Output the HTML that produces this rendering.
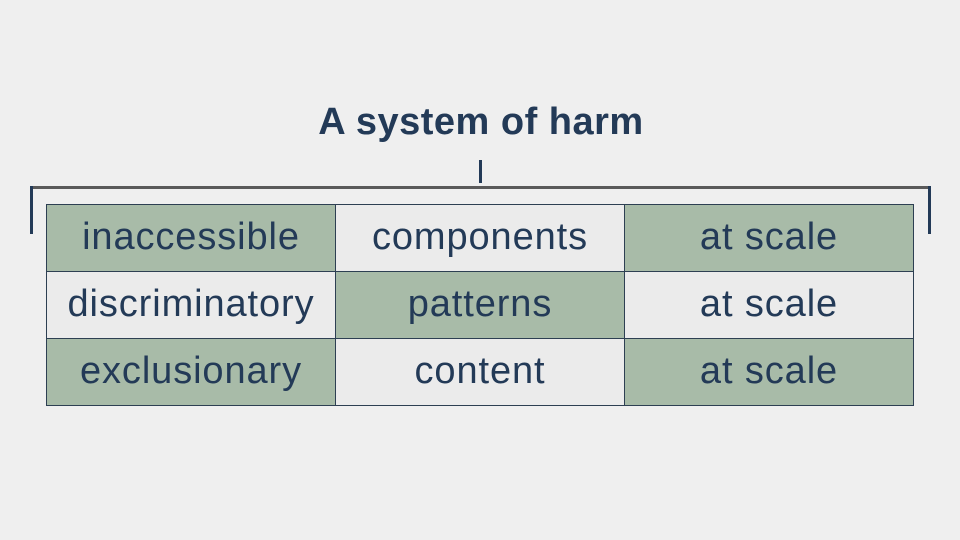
<!DOCTYPE html>
<html><head><meta charset="utf-8"><style>
body{margin:0;width:960px;height:540px;background:#efefef;position:relative;overflow:hidden;font-family:"Liberation Sans",sans-serif;color:#233a57}
.t{position:absolute;left:0;width:962px;top:101px;text-align:center;font-weight:bold;font-size:38px;letter-spacing:0.5px}
.l{position:absolute;background:#233a57}
.c{position:absolute;width:290px;height:68px;line-height:64px;border:1px solid #2d3f52;text-align:center;font-size:38px;letter-spacing:0.9px;background:#ebebeb;white-space:nowrap;box-sizing:border-box}
.g{background:#a8bba8}
</style></head><body>
<div class="t">A system of harm</div>
<div class="l" style="left:479px;top:160px;width:3px;height:23px"></div>
<div class="l" style="left:30px;top:186px;width:901px;height:3px;background:#5a5a5a"></div>
<div class="l" style="left:30px;top:186px;width:3px;height:48px"></div>
<div class="l" style="left:928px;top:186px;width:3px;height:48px"></div>
<div class="c g" style="left:46px;top:204px">inaccessible</div>
<div class="c" style="left:335px;top:204px">components</div>
<div class="c g" style="left:624px;top:204px">at scale</div>
<div class="c" style="left:46px;top:271px">discriminatory</div>
<div class="c g" style="left:335px;top:271px">patterns</div>
<div class="c" style="left:624px;top:271px">at scale</div>
<div class="c g" style="left:46px;top:338px">exclusionary</div>
<div class="c" style="left:335px;top:338px">content</div>
<div class="c g" style="left:624px;top:338px">at scale</div>
</body></html>
